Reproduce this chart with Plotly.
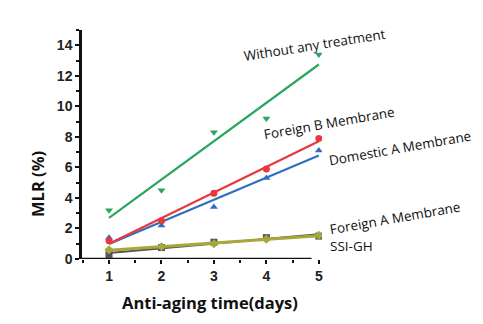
import numpy as np
import plotly.graph_objects as go

# Anti-aging time (days)
days = [1, 2, 3, 4, 5]

# MLR (%) for each membrane / treatment
without_treatment = [3.2, 4.5, 8.3, 9.2, 13.4]
foreign_b = [1.2, 2.5, 4.3, 5.9, 7.9]
domestic_a = [1.4, 2.2, 3.4, 5.3, 7.1]
foreign_a = [0.3, 0.75, 1.1, 1.4, 1.5]
ssi_gh = [0.6, 0.8, 1.0, 1.3, 1.55]

x_ticks = [1, 2, 3, 4, 5]
y_ticks = [0, 2, 4, 6, 8, 10, 12, 14]

series = [
    ("Foreign A Membrane", foreign_a, "#555555", "square", 2.0),
    ("Domestic A Membrane", domestic_a, "#2e6fc4", "triangle-up", 2.2),
    ("Foreign B Membrane", foreign_b, "#e8383d", "circle", 2.2),
    ("Without any treatment", without_treatment, "#2aa660", "triangle-down", 2.2),
    ("SSI-GH", ssi_gh, "#a7a83a", "diamond", 3.0),
]

fig = go.Figure()
for name, vals, color, symbol, lw in series:
    fig.add_trace(go.Scatter(
        x=days, y=vals, mode="markers", name=name,
        marker=dict(symbol=symbol, size=7, color=color),
        showlegend=False,
    ))
    slope, icpt = np.polyfit(days, vals, 1)
    fx = np.array([days[0], days[-1]], dtype=float)
    fig.add_trace(go.Scatter(
        x=fx, y=slope * fx + icpt, mode="lines",
        line=dict(color=color, width=lw), showlegend=False,
    ))

# plot-area geometry (pixels) used to place the free text labels
L, R, T, B = 82, 161, 30, 65
W, H = 483, 324
pw, ph = W - L - R, H - T - B


def px(x, y):
    return (x - L) / pw, (H - B - y) / ph


labels = [
    ("Without any treatment", 314, 45, -9),
    ("Foreign B Membrane", 329, 123, -10),
    ("Domestic A Membrane", 400, 148, -10),
    ("Foreign A Membrane", 395, 218, -10),
    ("SSI-GH", 351, 246, 0),
]
annotations = []
for text, x, y, ang in labels:
    ax, ay = px(x, y)
    annotations.append(dict(
        text=text, x=ax, y=ay, xref="paper", yref="paper",
        showarrow=False, textangle=ang, xanchor="center", yanchor="middle",
        font=dict(family="Open Sans", size=13.5, color="#111111"),
    ))

tx, ty = px(210, 302)
annotations.append(dict(
    text="<b>Anti-aging time(days)</b>", x=tx, y=ty, xref="paper", yref="paper",
    showarrow=False, xanchor="center", yanchor="middle",
    font=dict(family="Open Sans", size=16.5, color="#111111"),
))
tx, ty = px(37, 184)
annotations.append(dict(
    text="<b>MLR (%)</b>", x=tx, y=ty, xref="paper", yref="paper",
    showarrow=False, textangle=-90, xanchor="center", yanchor="middle",
    font=dict(family="Open Sans", size=16.5, color="#111111"),
))

fig.update_layout(
    width=W, height=H,
    margin=dict(l=L, r=R, t=T, b=B),
    paper_bgcolor="white", plot_bgcolor="white",
    annotations=annotations,
    shapes=[dict(
        type="line", xref="x", yref="y", x0=0.485, x1=4.86, y0=0, y1=0,
        line=dict(color="#111111", width=2.5),
    )],
)
fig.update_xaxes(
    range=[0.485, 5.06], tickvals=x_ticks, showgrid=False, zeroline=False,
    showline=False, ticks="outside", ticklen=4, tickwidth=2, tickcolor="#111111",
    minor=dict(dtick=0.5, ticks="outside", ticklen=3, tickwidth=1.5, tickcolor="#111111"),
    tickfont=dict(family="Arial", size=14, color="#222222", weight="bold"),
)
fig.update_yaxes(
    range=[0, 15], tickvals=y_ticks, showgrid=False, zeroline=False,
    showline=True, linecolor="#111111", linewidth=2.5,
    ticks="outside", ticklen=4, tickwidth=2, tickcolor="#111111",
    minor=dict(dtick=1, ticks="outside", ticklen=3, tickwidth=1.5, tickcolor="#111111"),
    tickfont=dict(family="Arial", size=14, color="#222222", weight="bold"),
)

fig.write_html("out.html")
